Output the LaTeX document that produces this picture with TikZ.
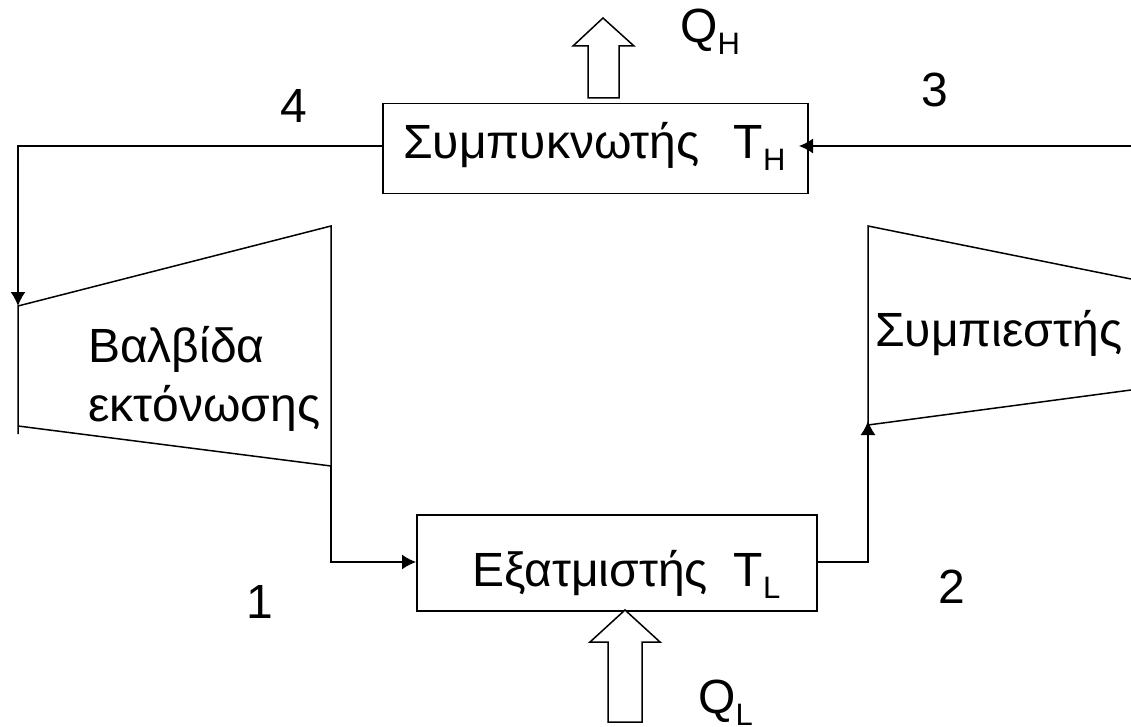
\documentclass[tikz,border=0pt]{standalone}
\usepackage{fontspec}
\setmainfont{Liberation Sans}
\usetikzlibrary{arrows.meta}
\newcommand{\lowsub}[1]{{\fontsize{31}{31}\selectfont\raisebox{-12pt}{#1}}}
\tikzset{
 line/.style={draw=black,line width=1.5pt},
 flow/.style={line,-{Latex[length=14pt,width=15pt]}},
 box/.style={line,rectangle,inner sep=0pt,anchor=north west},
 lbl/.style={font=\fontsize{48}{50}\selectfont,inner sep=0pt,anchor=base west},
 fat/.style={line,fill=white,line join=miter}
}
\begin{document}
\begin{tikzpicture}[x=1pt,y=-1pt]
\useasboundingbox (0,0) rectangle (1131,727);
\clip (0,0) rectangle (1131,727);
% boxes
\node[box,minimum width=425pt,minimum height=90pt] (cond) at (382,103) {};
\node[box,minimum width=400pt,minimum height=96pt] (evap) at (416,514) {};
% turbine shapes
\coordinate (vtl) at (18,306);
\coordinate (vtr) at (331,226);
\coordinate (vbr) at (331,466);
\coordinate (vbl) at (18,426);
\coordinate (ctl) at (868,226);
\coordinate (cbl) at (868,425);
\coordinate (ctip) at (868,421);
\draw[line] (18,434) -- (vtl) -- (vtr) -- (vbr) -- (vbl);
\draw[line] (1131,279) -- (ctl) -- (cbl) -- (1131,390);
% connectors
\coordinate (in3) at (1131,146);
\coordinate (c4) at (18,146);
\coordinate (v1) at (331,562);
\coordinate (e2) at (868,562);
\coordinate (tip3) at (799,146);
\draw[flow] (in3) -- (tip3);
\draw[flow] (cond.west |- c4) -- (c4) -- (vtl);
\draw[flow] (vbr) -- (v1) -- (evap.west |- v1);
\draw[flow] (evap.east |- e2) -- (e2) -- (ctip);
% fat arrows
\draw[fat] (588,98) -- (588,46) -- (573,46) -- (603,18) -- (634,46) -- (619,46) -- (619,98) -- cycle;
\draw[fat] (608,722) -- (608,642) -- (590,642) -- (625,610) -- (660,642) -- (642,642) -- (642,722) -- cycle;
% text
\node[lbl] (t4) at (280,123) {4};
\node[lbl] (t3) at (921,107) {3};
\node[lbl] (t1) at (246,618) {1};
\node[lbl] (t2) at (938,603) {2};
\node[lbl] (tqh) at (680,43) {Q\lowsub{H}};
\node[lbl] (tql) at (698,713) {Q\lowsub{L}};
\node[lbl] (tc) at (403,159) {Συμπυκνωτής\hspace{34pt}T\lowsub{H}};
\node[lbl] (te) at (472,586) {Εξατμιστής\hspace{26pt}T\lowsub{L}};
\node[lbl] (tv1) at (88,362) {Βαλβίδα};
\node[lbl] (tv2) at (88,421) {εκτόνωσης};
\node[lbl] (ts) at (875,346) {Συμπιεστής};
\end{tikzpicture}
\end{document}
